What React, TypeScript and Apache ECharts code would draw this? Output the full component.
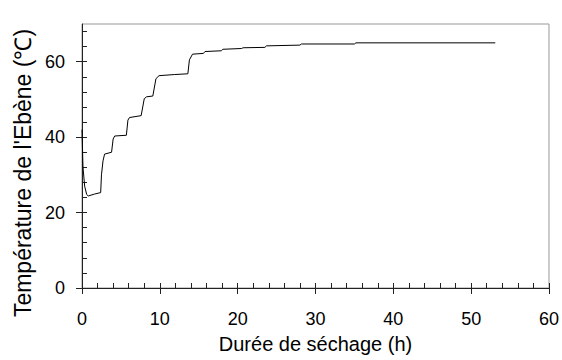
import React, { useEffect, useRef } from "react";
import * as echarts from "echarts";

const timeH = [0, 0.05, 0.13, 0.34, 0.6, 0.8, 1.6, 2.4, 2.5, 2.7, 2.9, 3.8, 4.0, 4.2, 5.7, 5.9, 6.1, 7.6, 8.0, 8.3, 9.1, 9.5, 9.9, 11.9, 13.6, 13.8, 14.2, 15.6, 15.8, 17.9, 18.1, 20.5, 20.7, 23.5, 23.7, 28.0, 28.2, 35.0, 35.2, 53.1];
const tempC = [42, 38, 32, 27, 24.8, 24.4, 24.9, 25.3, 30, 33.7, 35.5, 36, 39.5, 40.3, 40.5, 44.5, 45.2, 45.7, 50.2, 50.7, 50.9, 55.5, 56.3, 56.6, 56.8, 60.5, 62, 62.2, 62.7, 62.9, 63.3, 63.5, 63.7, 63.8, 64.2, 64.4, 64.7, 64.7, 65.0, 65.0];

const xLabels = [0, 10, 20, 30, 40, 50, 60];
const xMinor = [0, 2, 4, 6, 8, 10, 12, 14, 16, 18, 20, 22, 24, 26, 28, 30, 32, 34, 36, 38, 40, 42, 44, 46, 48, 50, 52, 54, 56, 58, 60];
const yLabels = [0, 20, 40, 60];
const yMinor = [0, 4, 8, 12, 16, 20, 24, 28, 32, 36, 40, 44, 48, 52, 56, 60, 64, 68];

const FONT = "'Liberation Sans', Arial, sans-serif";
const AX = "#222";

export default function App() {
  const ref = useRef<HTMLDivElement>(null);
  useEffect(() => {
    if (!ref.current) return;
    const chart = echarts.init(ref.current, null, { renderer: "svg" });
    const data = timeH.map((t, i) => [t, tempC[i]]);
    chart.setOption({
      animation: false,
      backgroundColor: "#fff",
      grid: { left: 82, right: 13, top: 24, bottom: 72, show: true, borderColor: "#999", borderWidth: 1 },
      xAxis: [
        {
          type: "value", min: 0, max: 60, position: "bottom",
          axisLine: { show: true, onZero: false, lineStyle: { color: AX, width: 1 } },
          axisTick: { show: true, inside: true, length: 5, customValues: xMinor, lineStyle: { color: AX } },
          axisLabel: { customValues: xLabels, margin: 22, fontSize: 18, color: "#000", fontFamily: FONT },
          splitLine: { show: false },
          name: "Durée de séchage (h)", nameLocation: "middle", nameGap: 46,
          nameTextStyle: { fontSize: 20, color: "#000", fontFamily: FONT },
        },
        {
          type: "value", min: 0, max: 60, position: "bottom",
          axisLine: { show: false },
          axisTick: { show: true, inside: false, length: 6, customValues: xLabels, lineStyle: { color: AX } },
          axisLabel: { show: false },
          splitLine: { show: false },
        },
      ],
      yAxis: [
        {
          type: "value", min: 0, max: 70, position: "left",
          axisLine: { show: true, onZero: false, lineStyle: { color: AX, width: 1 } },
          axisTick: { show: true, inside: true, length: 5, customValues: yMinor, lineStyle: { color: AX } },
          axisLabel: { customValues: yLabels, margin: 17, fontSize: 18, color: "#000", fontFamily: FONT },
          splitLine: { show: false },
          name: "Température de l'Ebène (℃)", nameLocation: "middle", nameGap: 45,
          nameTextStyle: { fontSize: 23, color: "#000", fontFamily: FONT, padding: [0, 34, 0, 0] },
        },
        {
          type: "value", min: 0, max: 70, position: "left",
          axisLine: { show: false },
          axisTick: { show: true, inside: false, length: 6, customValues: yLabels, lineStyle: { color: AX } },
          axisLabel: { show: false },
          splitLine: { show: false },
        },
      ],
      series: [
        {
          type: "line", xAxisIndex: 0, yAxisIndex: 0, data, showSymbol: false, symbol: "none",
          lineStyle: { color: "#000", width: 1 }, silent: true,
        },
      ],
    });
    return () => chart.dispose();
  }, []);
  return <div ref={ref} style={{ position: "fixed", left: 0, top: 0, width: 562, height: 360 }} />;
}
